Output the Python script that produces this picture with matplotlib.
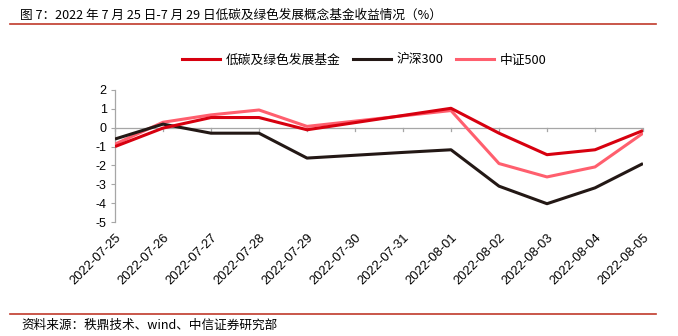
import matplotlib
matplotlib.use("Agg")
import matplotlib.pyplot as plt
from matplotlib.lines import Line2D

plt.rcParams['font.family'] = ['Noto Sans CJK SC', 'DejaVu Sans']

dates = ["2022-07-25", "2022-07-26", "2022-07-27", "2022-07-28", "2022-07-29",
         "2022-07-30", "2022-07-31", "2022-08-01", "2022-08-02", "2022-08-03",
         "2022-08-04", "2022-08-05"]
low_carbon = [-1.0, -0.02, 0.54, 0.54, -0.11, 0.27, 0.65, 1.03, -0.29, -1.43, -1.17, -0.15]
hs300 = [-0.6, 0.19, -0.29, -0.29, -1.61, -1.46, -1.31, -1.17, -3.1, -4.03, -3.19, -1.9]
zz500 = [-0.87, 0.29, 0.68, 0.94, 0.07, 0.35, 0.63, 0.91, -1.9, -2.61, -2.08, -0.29]
series_names = ["低碳及绿色发展基金", "沪深300", "中证500"]
yticks = [2, 1, 0, -1, -2, -3, -4, -5]

title = "图 7：2022 年 7 月 25 日-7 月 29 日低碳及绿色发展概念基金收益情况（%）"
source = "资料来源：秩鼎技术、wind、中信证券研究部"

W, H = 678, 336
fig = plt.figure(figsize=(W / 100, H / 100), dpi=100)

ax = fig.add_axes([115 / W, 1 - 222 / H, (643 - 115) / W, (222 - 90) / H])
x = list(range(len(dates)))
colors = ["#D7000F", "#231815", "#FF5F6E"]
ax.plot(x, zz500, color=colors[2], lw=2.2, solid_capstyle='butt', zorder=3)
ax.plot(x, hs300, color=colors[1], lw=2.2, solid_capstyle='butt', zorder=3)
ax.plot(x, low_carbon, color=colors[0], lw=2.2, solid_capstyle='butt', zorder=4)

ax.set_xlim(0, len(dates) - 1)
ax.set_ylim(-5, 2)
ax.set_yticks(yticks)
ax.set_yticklabels([str(v) for v in yticks], family=['Liberation Sans'], fontsize=9)

grey = "#A6A6A6"
for s in ['top', 'right', 'bottom']:
    ax.spines[s].set_visible(False)
ax.spines['left'].set_color(grey)
ax.spines['left'].set_linewidth(0.9)
ax.axhline(0, color=grey, lw=0.9, zorder=1)
ax.tick_params(axis='y', direction='out', length=3, color=grey, pad=3, labelcolor='black')
ax.set_xticks(x)
ax.set_xticklabels([])
ax.tick_params(axis='x', length=0)

# ticks on the zero line
for xi in x:
    ax.plot([xi, xi], [0, -0.16], color=grey, lw=0.9, zorder=1, clip_on=False)

# rotated date labels at the bottom
for xi, d in zip(x, dates):
    ax.annotate(d, xy=(xi, -5), xycoords='data', xytext=(0, -7), textcoords='offset points',
                rotation=45, ha='right', va='top', rotation_mode='anchor',
                fontsize=9.3, family=['Liberation Sans'])

handles = [Line2D([], [], color=c, lw=2.2) for c in colors]
fig.legend(handles, series_names, loc='center', bbox_to_anchor=(364 / W, 1 - 60 / H),
           ncol=3, frameon=False, fontsize=9.2, handlelength=3.0, handletextpad=0.4,
           columnspacing=1.0)

fig.text(20 / W, 1 - 15 / H, title, fontsize=9.1, va='center', ha='left')
fig.add_artist(Line2D([10 / W, 656 / W], [1 - 23.5 / H, 1 - 23.5 / H], color="#C0392B", lw=1.2))
fig.add_artist(Line2D([10 / W, 656 / W], [1 - 313.5 / H, 1 - 313.5 / H], color="#C0392B", lw=1.2))
fig.text(21 / W, 1 - 325 / H, source, fontsize=9.1, va='center', ha='left')

fig.savefig("out.png", dpi=100)
